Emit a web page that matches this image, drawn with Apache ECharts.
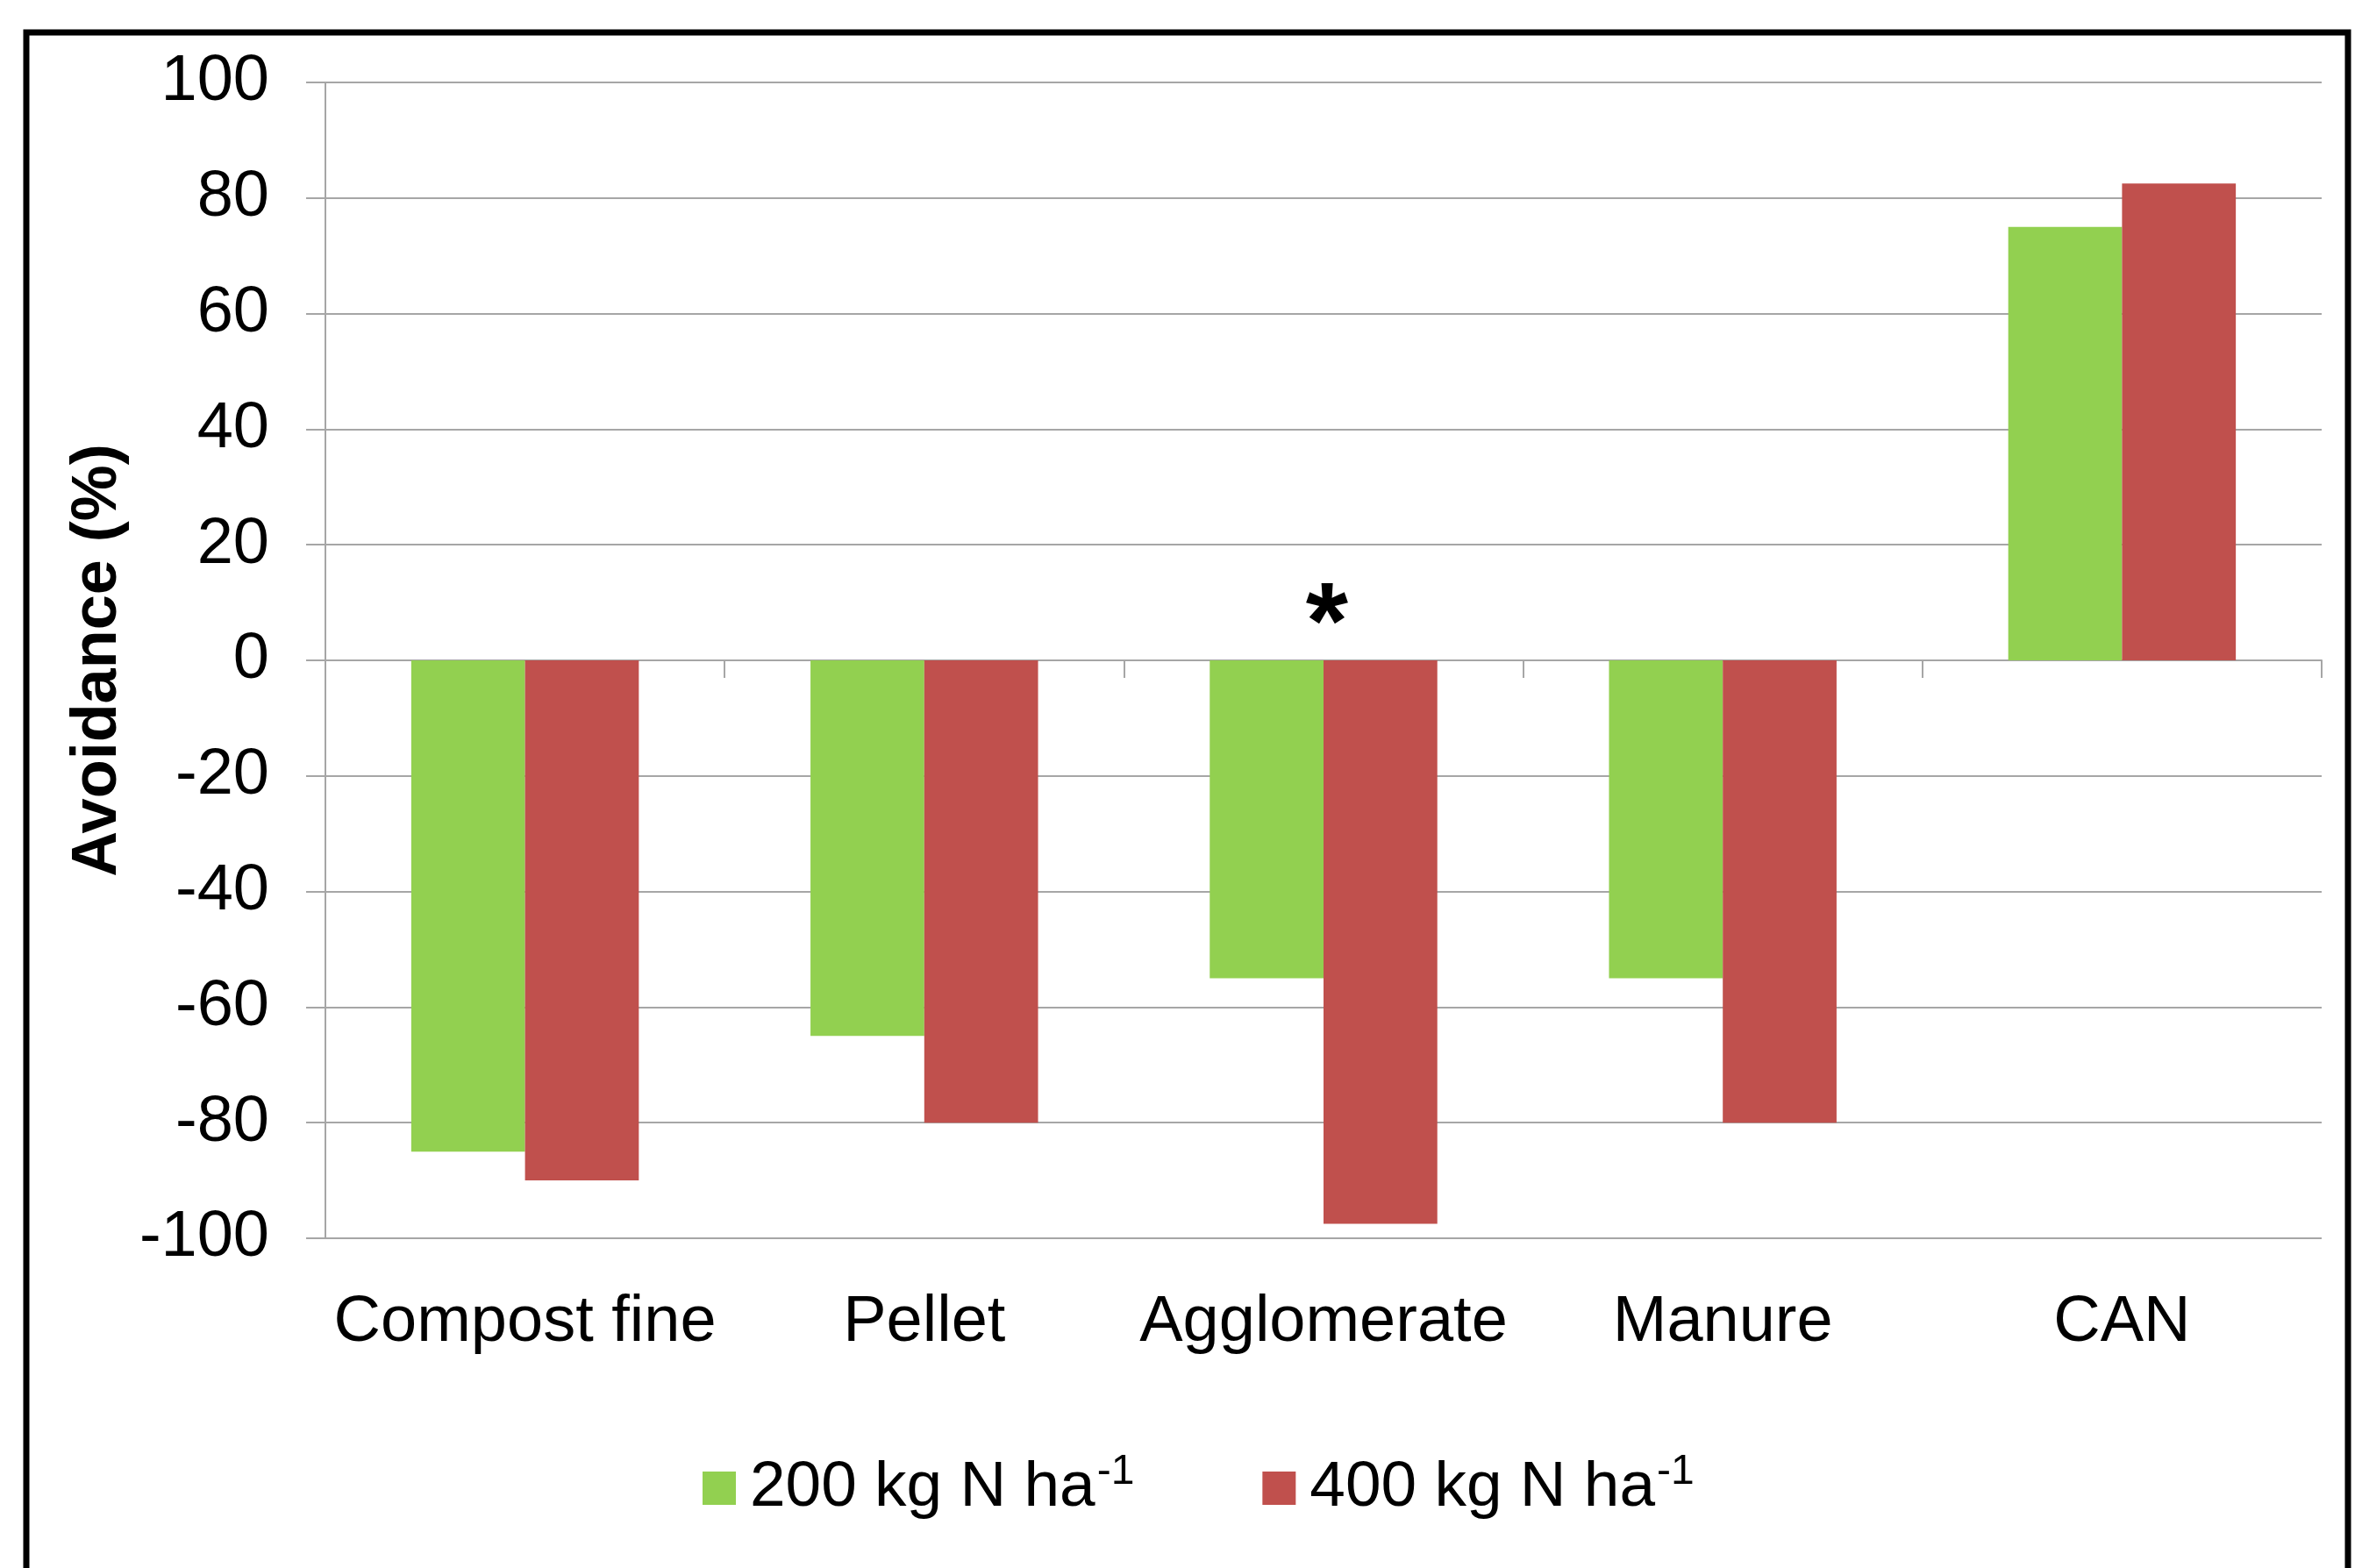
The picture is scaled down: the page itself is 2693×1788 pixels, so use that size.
<!DOCTYPE html>
<html>
<head>
    <meta charset="UTF-8">
    <title>Avoidance</title>
    <script type="text/javascript" src="https://cdn.jsdelivr.net/npm/echarts@6/dist/echarts.min.js"></script>
    <style>
        html, body { margin: 0; padding: 0; background: #fff; }
    </style>
</head>
<body>

<div id="main" style="width: 2693px; height: 1788px;"></div>
<script type="text/javascript">

    // data
    var categories = ['Compost fine', 'Pellet', 'Agglomerate', 'Manure', 'CAN'];
    var seriesNames = ['200 kg N ha', '400 kg N ha'];
    var dose200 = [-85, -65, -55, -55, 75];
    var dose400 = [-90, -80, -97.5, -80, 82.5];
    var yTicks = [-100, -80, -60, -40, -20, 0, 20, 40, 60, 80, 100];
    // significance mark above Agglomerate
    var starPoint = [['Agglomerate', 5.5]];

    var font = 'Liberation Sans, Arial, sans-serif';
    var gridGray = '#a6a6a6';

    var myChart = echarts.init(document.getElementById('main'));

    var option = {
        backgroundColor: '#ffffff',
        animation: false,
        textStyle: { fontFamily: font, color: '#000' },
        graphic: [{
            type: 'rect',
            shape: { x: 30, y: 37, width: 2647, height: 1800 },
            style: { fill: 'none', stroke: '#000', lineWidth: 7 },
            silent: true
        }],
        grid: {
            left: 371,
            right: 46,
            top: 94,
            bottom: 376
        },
        legend: {
            data: seriesNames,
            left: 796,
            top: 1650,
            icon: 'rect',
            itemWidth: 38,
            itemHeight: 38,
            itemGap: 146,
            formatter: function (name) {
                return '{a|' + name + '}{s|-1}';
            },
            textStyle: {
                fontFamily: font,
                fontSize: 73,
                color: '#000',
                rich: {
                    a: { fontFamily: font, fontSize: 73, color: '#000', padding: [0, 0, 0, 11] },
                    s: { fontFamily: font, fontSize: 48, color: '#000', padding: [0, 0, 36, 2] }
                }
            }
        },
        xAxis: [{
            type: 'category',
            data: categories,
            position: 'bottom',
            axisLine: { show: false, onZero: false },
            axisTick: { show: false },
            splitLine: { show: false },
            axisLabel: {
                fontFamily: font,
                fontSize: 74,
                color: '#000',
                margin: 60,
                interval: 0
            }
        }, {
            type: 'category',
            data: categories,
            position: 'top',
            axisLine: { show: true, onZero: true, lineStyle: { color: gridGray, width: 2 } },
            axisTick: { show: true, inside: true, length: 20, lineStyle: { color: gridGray, width: 2 } },
            axisLabel: { show: false },
            splitLine: { show: false }
        }],
        yAxis: {
            type: 'value',
            min: yTicks[0],
            max: yTicks[yTicks.length - 1],
            interval: 20,
            name: 'Avoidance (%)',
            nameLocation: 'middle',
            nameRotate: 90,
            nameGap: 220,
            nameTextStyle: {
                fontFamily: font,
                fontSize: 72,
                fontWeight: 'bold',
                color: '#000'
            },
            axisLine: { show: true, onZero: false, lineStyle: { color: gridGray, width: 2 } },
            axisTick: { show: true, length: 22, lineStyle: { color: gridGray, width: 2 } },
            splitLine: { show: true, lineStyle: { color: gridGray, width: 2 } },
            axisLabel: {
                fontFamily: font,
                fontSize: 74,
                color: '#000',
                margin: 64
            }
        },
        series: [{
            name: seriesNames[0],
            type: 'bar',
            xAxisIndex: 0,
            data: dose200,
            barGap: '0%',
            barCategoryGap: '43%',
            itemStyle: { color: '#92d050' }
        }, {
            name: seriesNames[1],
            type: 'bar',
            xAxisIndex: 0,
            data: dose400,
            barGap: '0%',
            barCategoryGap: '43%',
            itemStyle: { color: '#c0504d' }
        }, {
            name: 'significance',
            type: 'scatter',
            xAxisIndex: 0,
            data: starPoint,
            symbol: 'circle',
            symbolSize: 1,
            itemStyle: { color: 'rgba(0,0,0,0)' },
            label: {
                show: true,
                position: 'inside',
                formatter: '*',
                fontFamily: font,
                fontSize: 124,
                fontWeight: 'bold',
                color: '#000',
                opacity: 1,
                offset: [4, 0]
            },
            silent: true
        }]
    };

    myChart.setOption(option);

</script>

</body>
</html>
